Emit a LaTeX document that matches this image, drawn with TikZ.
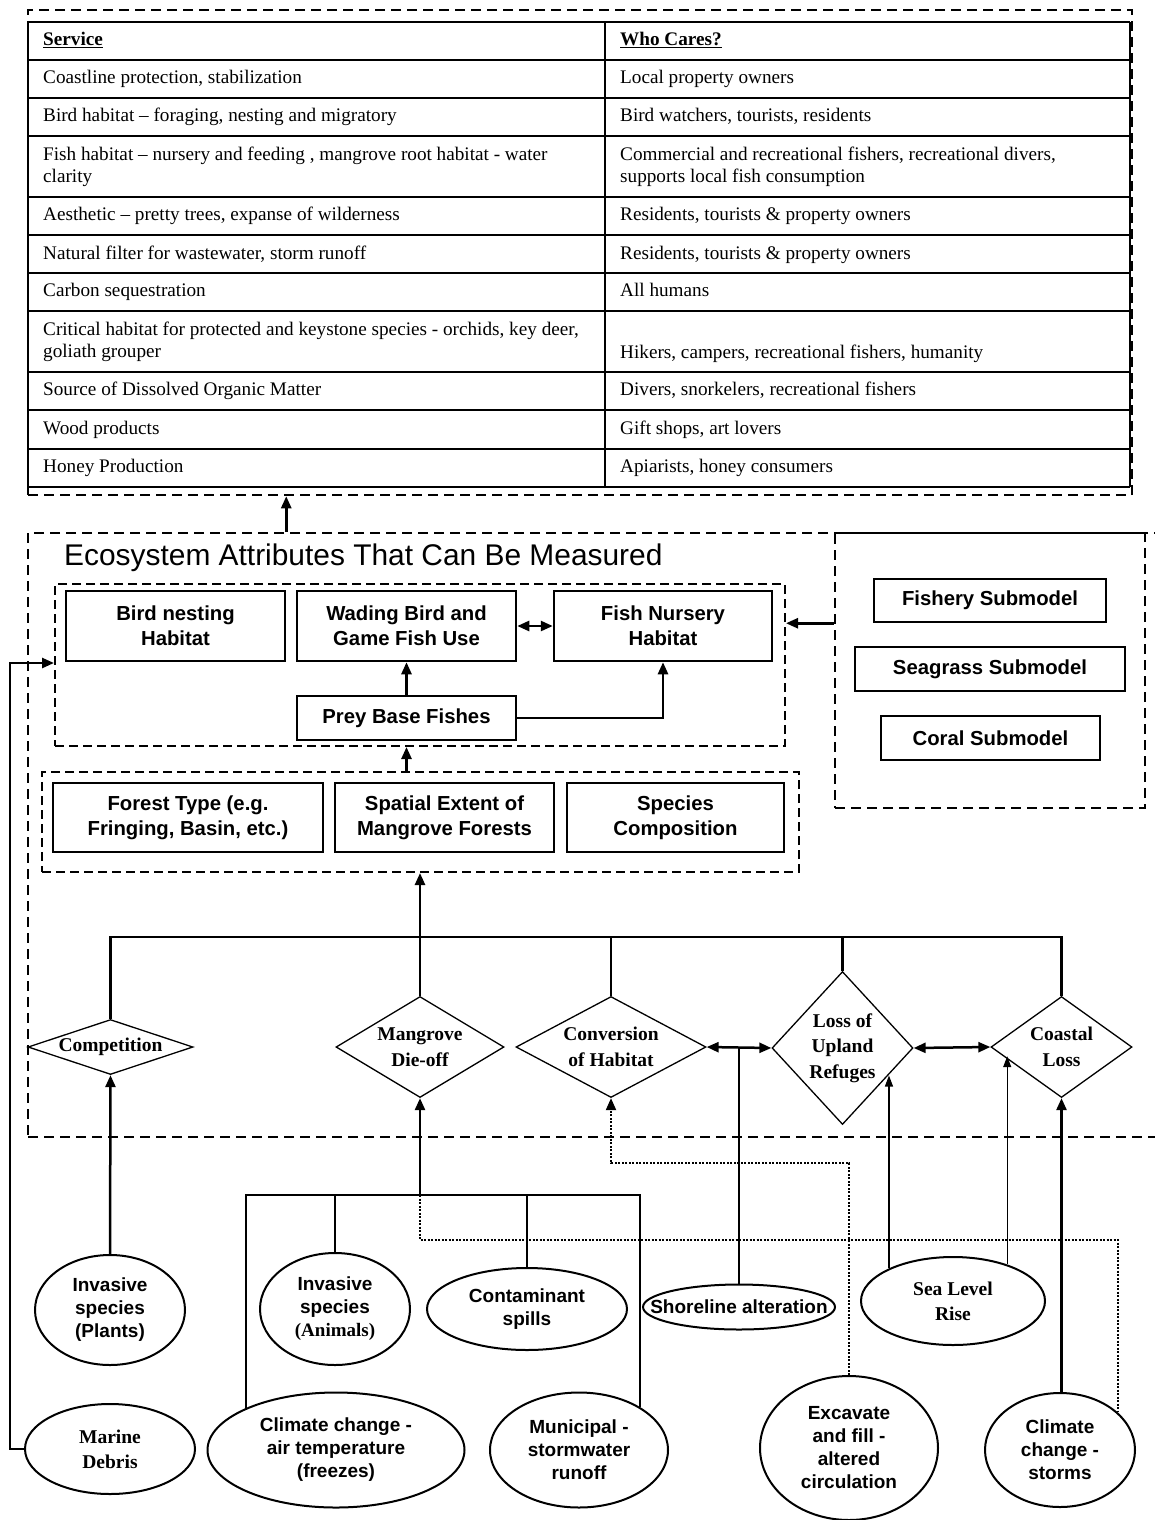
\documentclass[tikz,border=0pt]{standalone}
\usepackage{fontspec}
\setmainfont{Liberation Serif}
\setsansfont{Liberation Sans}
\usetikzlibrary{arrows.meta,shapes.geometric}

\tikzset{
  cell/.style={anchor=west, inner sep=0pt, align=left, font=\fontsize{19.2}{22}\selectfont},
  onecell/.style={cell, text height=13pt, text depth=4pt},
  box/.style={draw, rectangle, line width=2.5pt, inner sep=0pt, align=center,
    font=\sffamily\bfseries\fontsize{20.3}{25}\selectfont},
  dia/.style={draw, diamond, line width=1.3pt, inner sep=0pt, align=center,
    font=\bfseries\fontsize{19.5}{25.5}\selectfont},
  oval/.style={draw, ellipse, line width=2pt, inner sep=0pt, align=center,
    font=\sffamily\bfseries\fontsize{19}{23}\selectfont},
  serifoval/.style={oval, font=\rmfamily\bfseries\fontsize{19.5}{25}\selectfont},
  bigframe/.style={draw, rectangle, dash pattern=on 10pt off 6pt, line width=2.5pt, inner sep=0pt},
  subframe/.style={draw, rectangle, dash pattern=on 9pt off 5pt, line width=2pt, inner sep=0pt},
  conn/.style={line width=2.5pt},
  arr/.style={conn, -{Triangle[length=12pt,width=10pt]}},
  dblarr/.style={conn, {Triangle[length=12pt,width=10pt]}-{Triangle[length=12pt,width=10pt]}},
  thinarr/.style={line width=1.2pt, -{Triangle[length=11pt,width=8pt]}},
  dotline/.style={line width=2pt, dash pattern=on 2pt off 1.5pt},
  gridline/.style={line width=1.2pt},
}

\begin{document}
\begin{tikzpicture}[x=1pt,y=-1pt]
\useasboundingbox (0,0) rectangle (1154,1520);

% ---------- services table ----------
\node[bigframe, minimum width=1104, minimum height=485] (topframe) at (580,252.5) {};
\foreach \yy in {22,60,98,136,197,235,273,311,372,410,449,487}
  \draw[gridline] (28,\yy) -- (1130,\yy);
\draw[gridline] (28,22) -- (28,487);
\draw[gridline] (605,22) -- (605,487);
\draw[gridline] (1130,22) -- (1130,487);

\node[onecell] (s0) at (43,41) {\underline{\textbf{Service}}};
\node[onecell] (w0) at (620,41) {\underline{\textbf{Who Cares?}}};
\node[onecell] (s1) at (43,79) {Coastline protection, stabilization};
\node[onecell] (w1) at (620,79) {Local property owners};
\node[onecell] (s2) at (43,117) {Bird habitat – foraging, nesting and migratory};
\node[onecell] (w2) at (620,117) {Bird watchers, tourists, residents};
\node[cell] (s3) at (43,167) {Fish habitat – nursery and feeding , mangrove root habitat - water\\clarity};
\node[cell] (w3) at (620,167) {Commercial and recreational fishers, recreational divers,\\supports local fish consumption};
\node[onecell] (s4) at (43,216) {Aesthetic – pretty trees, expanse of wilderness};
\node[onecell] (w4) at (620,216) {Residents, tourists \& property owners};
\node[onecell] (s5) at (43,255) {Natural filter for wastewater, storm runoff};
\node[onecell] (w5) at (620,255) {Residents, tourists \& property owners};
\node[onecell] (s6) at (43,292) {Carbon sequestration};
\node[onecell] (w6) at (620,292) {All humans};
\node[cell] (s7) at (43,342) {Critical habitat for protected and keystone species - orchids, key deer,\\goliath grouper};
\node[onecell] (w7) at (620,354) {Hikers, campers, recreational fishers, humanity};
\node[onecell] (s8) at (43,391) {Source of Dissolved Organic Matter};
\node[onecell] (w8) at (620,391) {Divers, snorkelers, recreational fishers};
\node[onecell] (s9) at (43,430) {Wood products};
\node[onecell] (w9) at (620,430) {Gift shops, art lovers};
\node[onecell] (s10) at (43,468) {Honey Production};
\node[onecell] (w10) at (620,468) {Apiarists, honey consumers};

% ---------- measurable attributes ----------
\node[bigframe, minimum width=1138, minimum height=604] (mainframe) at (597,835) {};
\node[bigframe, minimum width=310, minimum height=275] (subframe) at (990,670.5) {};
\node[subframe, minimum width=730, minimum height=162] (attrframe) at (420,665) {};
\node[subframe, minimum width=757, minimum height=100] (forestframe) at (420.5,822) {};

\node[anchor=west, inner sep=0pt, font=\sffamily\fontsize{29.9}{32}\selectfont] (title) at (64,558)
  {Ecosystem Attributes That Can Be Measured};

\node[box, minimum width=219, minimum height=70] (bird) at (175.5,626) {Bird nesting\\Habitat};
\node[box, minimum width=219, minimum height=70] (wading) at (406.5,626) {Wading Bird and\\Game Fish Use};
\node[box, minimum width=218, minimum height=70] (nursery) at (663,626) {Fish Nursery\\Habitat};
\node[box, minimum width=219, minimum height=44] (prey) at (406.5,718) {Prey Base Fishes};

\node[box, minimum width=270, minimum height=69] (forest) at (188,817.5) {Forest Type (e.g.\\Fringing, Basin, etc.)};
\node[box, minimum width=219, minimum height=69] (spatial) at (444.5,817.5) {Spatial Extent of\\Mangrove Forests};
\node[box, minimum width=217, minimum height=69] (species) at (675.5,817.5) {Species\\Composition};

\node[box, minimum width=232, minimum height=43] (fishery) at (990,600.5) {Fishery Submodel};
\node[box, minimum width=270, minimum height=44] (seagrass) at (990,669) {Seagrass Submodel};
\node[box, minimum width=219, minimum height=44] (coral) at (990.5,738) {Coral Submodel};

% ---------- stressors (diamonds) ----------
\node[dia, aspect=2.96, minimum width=165, minimum height=55] (compet) at (110.5,1047) {Competition};
\node[dia, aspect=1.68, minimum width=168, minimum height=101] (dieoff) at (420,1047) {Mangrove\\Die-off};
\node[dia, aspect=1.9, minimum width=190, minimum height=101] (convert) at (611,1047) {Conversion\\of Habitat};
\node[dia, aspect=0.92, minimum width=141, minimum height=153] (loss) at (842.5,1048) {Loss of\\Upland\\Refuges};
\node[dia, aspect=1.4, minimum width=141, minimum height=101] (coastal) at (1061.5,1047) {Coastal\\Loss};

% ---------- drivers (ellipses) ----------
\node[oval, minimum width=150, minimum height=110] (plants) at (110,1310) {Invasive\\species\\(Plants)};
\node[serifoval, minimum width=170, minimum height=90] (debris) at (110,1449) {Marine\\Debris};
\node[oval, minimum width=150, minimum height=112] (animals) at (335,1309) {Invasive\\species\\{\rmfamily (Animals)}};
\node[oval, minimum width=200, minimum height=82] (spills) at (527,1309) {Contaminant\\spills};
\node[oval, minimum width=257, minimum height=115] (airtemp) at (336,1450) {Climate change -\\air temperature\\(freezes)};
\node[oval, minimum width=178, minimum height=115] (municipal) at (579,1450) {Municipal -\\stormwater\\runoff};
\node[oval, inner xsep=-30pt, minimum width=192, minimum height=45] (shore) at (739,1307) {Shoreline alteration};
\node[serifoval, minimum width=184, minimum height=88] (slr) at (953,1301) {Sea Level\\Rise};
\node[oval, minimum width=178, minimum height=144] (excavate) at (849,1448) {Excavate\\and fill -\\altered\\circulation};
\node[oval, minimum width=150, minimum height=114] (storms) at (1060,1450) {Climate\\change -\\storms};

% ---------- connectors: upper part ----------
\draw[arr] (bird.east |- mainframe.north) -- (bird.east |- topframe.south);
\draw[dblarr] (wading.east) -- (nursery.west);
\draw[arr] (prey.north) -- (wading.south);
\draw[arr] (prey.east) -| (nursery.south);
\draw[arr] (forestframe.north -| prey) -- (attrframe.south -| prey);
\draw[arr] (subframe.west |- fishery.south) -- (attrframe.east |- fishery.south);

% ---------- connectors: stressors to habitat ----------
\coordinate (hub) at (420,937);
\draw[conn] (compet.north) |- (hub) -| (coastal.north);
\draw[conn] (dieoff.north) -- (hub);
\draw[conn] (convert.north) -- (convert.north |- hub);
\draw[conn] (loss.north) -- (loss.north |- hub);
\draw[arr] (hub) -- (forestframe.south -| hub);

\draw[dblarr] (convert.east) -- (loss.west);
\draw[dblarr] (loss.east) -- (coastal.west);

% ---------- connectors: drivers to stressors ----------
\draw[arr] (plants.north) -- (compet.south);

\coordinate (debrisbend) at (10,663);
\draw[arr] (debris.west) -| (debrisbend) -- (attrframe.west |- debrisbend);

\coordinate (mhub) at (420,1195);
\draw[conn] (airtemp.155.8) |- (municipal.35.9 |- mhub) -- (municipal.35.9);
\draw[conn] (animals.north) -- (animals.north |- mhub);
\draw[conn] (spills.north) -- (spills.north |- mhub);
\draw[arr] (mhub) -- (dieoff.south);

\coordinate (dotrowA) at (0,1240);
\draw[dotline] (mhub) |- (storms.33 |- dotrowA) -- (storms.33);

\coordinate (dotrowB) at (0,1163);
\draw[dotline, -{Triangle[length=12pt,width=10pt]}] (excavate.north) |- (convert.south |- dotrowB) -- (convert.south);

\draw[conn] (shore.north) -- (shore.north |- convert.east);

\draw[thinarr] (slr.153.7) -- (slr.153.7 |- loss.-31);
\draw[thinarr] (slr.34.2) -- (slr.34.2 |- coastal.189);

\draw[arr] (coastal.south |- storms.north) -- (coastal.south);
\end{tikzpicture}
\end{document}
